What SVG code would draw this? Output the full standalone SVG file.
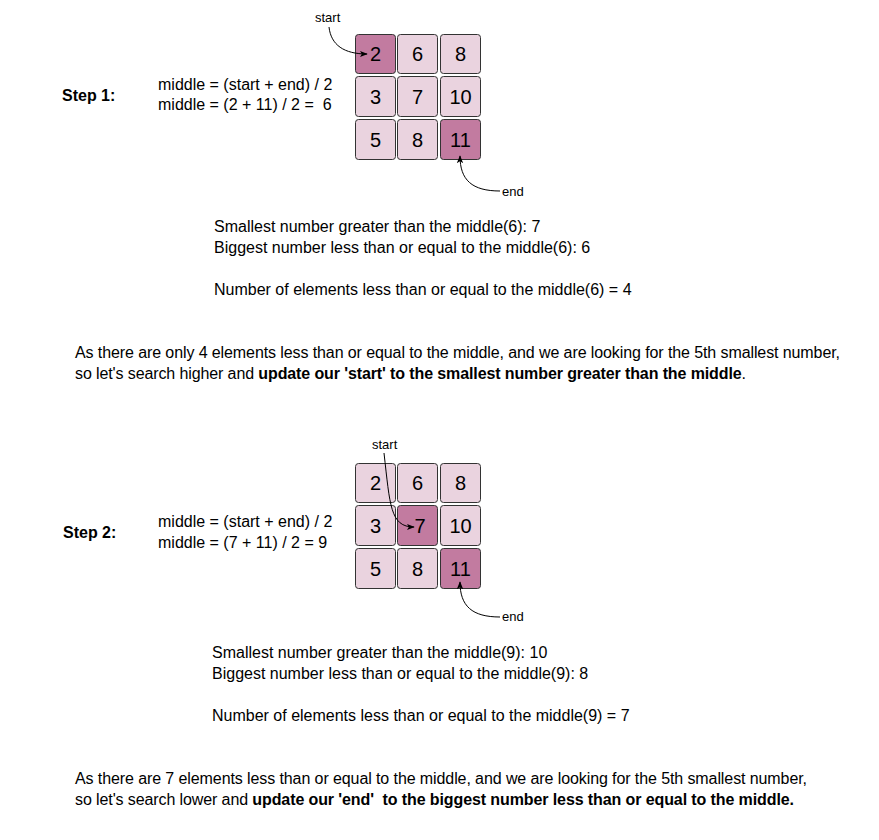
<svg xmlns="http://www.w3.org/2000/svg" width="879" height="840" viewBox="0 0 879 840">
<defs>
<style>
.t{font-family:"Liberation Sans",Arial,sans-serif;font-size:16px;fill:#000}
.b{font-weight:bold}
.lbl{font-family:"Liberation Sans",Arial,sans-serif;font-size:13px;fill:#000}
.cell{fill:#EAD3DF;stroke:#333;stroke-width:1}
.dark{fill:#C27BA0}
.num{font-family:"Liberation Sans",Arial,sans-serif;font-size:20px;fill:#000;text-anchor:middle}
.con{fill:none;stroke:#000;stroke-width:1}
</style>
<marker id="ah" viewBox="0 0 10 10" refX="9" refY="5" markerWidth="8" markerHeight="8" markerUnits="userSpaceOnUse" orient="auto">
<path d="M0,1 L10,5 L0,9 L2.5,5 Z" fill="#000"/>
</marker>
</defs>
<rect width="879" height="840" fill="#fff"/>

<g id="step1">
<text class="t b" x="62" y="101">Step 1:</text>
<text class="t" x="158" y="90">middle = (start + end) / 2</text>
<text class="t" x="158" y="110" xml:space="preserve">middle = (2 + 11) / 2 =  6</text>
</g>

<g id="grid1">
<g id="g1c1"><rect class="cell dark" x="355.5" y="34.5" width="40" height="39" rx="3"/><text class="num" x="375.5" y="61">2</text></g>
<g id="g1c2"><rect class="cell" x="397.5" y="34.5" width="40" height="39" rx="3"/><text class="num" x="417.5" y="61">6</text></g>
<g id="g1c3"><rect class="cell" x="440.5" y="34.5" width="40" height="39" rx="3"/><text class="num" x="460.5" y="61">8</text></g>
<g id="g1c4"><rect class="cell" x="355.5" y="76.5" width="40" height="40" rx="3"/><text class="num" x="375.5" y="103.5">3</text></g>
<g id="g1c5"><rect class="cell" x="397.5" y="76.5" width="40" height="40" rx="3"/><text class="num" x="417.5" y="103.5">7</text></g>
<g id="g1c6"><rect class="cell" x="440.5" y="76.5" width="40" height="40" rx="3"/><text class="num" x="460.5" y="103.5">10</text></g>
<g id="g1c7"><rect class="cell" x="355.5" y="119.5" width="40" height="40" rx="3"/><text class="num" x="375.5" y="146.5">5</text></g>
<g id="g1c8"><rect class="cell" x="397.5" y="119.5" width="40" height="40" rx="3"/><text class="num" x="417.5" y="146.5">8</text></g>
<g id="g1c9"><rect class="cell dark" x="440.5" y="119.5" width="40" height="40" rx="3"/><text class="num" x="460.5" y="146.5">11</text></g>
</g>

<g id="labels1">
<text class="lbl" x="315" y="22">start</text>
<text class="lbl" x="502" y="196">end</text>
</g>

<g id="text1">
<text class="t" x="214" y="232">Smallest number greater than the middle(6): 7</text>
<text class="t" x="214" y="253">Biggest number less than or equal to the middle(6): 6</text>
<text class="t" x="214" y="295">Number of elements less than or equal to the middle(6) = 4</text>
<text class="t" x="75" y="358" textLength="765" lengthAdjust="spacing">As there are only 4 elements less than or equal to the middle, and we are looking for the 5th smallest number,</text>
<text class="t" x="75" y="379" textLength="671" lengthAdjust="spacing">so let's search higher and <tspan class="b">update our 'start' to the smallest number greater than the middle</tspan>.</text>
</g>

<g id="step2">
<text class="t b" x="63" y="538">Step 2:</text>
<text class="t" x="158" y="527">middle = (start + end) / 2</text>
<text class="t" x="158" y="548">middle = (7 + 11) / 2 = 9</text>
</g>

<g id="grid2">
<g id="g2c1"><rect class="cell" x="355.5" y="463.5" width="40" height="39" rx="3"/><text class="num" x="375.5" y="490">2</text></g>
<g id="g2c2"><rect class="cell" x="397.5" y="463.5" width="40" height="39" rx="3"/><text class="num" x="417.5" y="490">6</text></g>
<g id="g2c3"><rect class="cell" x="440.5" y="463.5" width="40" height="39" rx="3"/><text class="num" x="460.5" y="490">8</text></g>
<g id="g2c4"><rect class="cell" x="355.5" y="505.5" width="40" height="40" rx="3"/><text class="num" x="375.5" y="532.5">3</text></g>
<g id="g2c5"><rect class="cell dark" x="397.5" y="505.5" width="40" height="40" rx="3"/><text class="num" x="420" y="532.5">7</text></g>
<g id="g2c6"><rect class="cell" x="440.5" y="505.5" width="40" height="40" rx="3"/><text class="num" x="460.5" y="532.5">10</text></g>
<g id="g2c7"><rect class="cell" x="355.5" y="548.5" width="40" height="40" rx="3"/><text class="num" x="375.5" y="575.5">5</text></g>
<g id="g2c8"><rect class="cell" x="397.5" y="548.5" width="40" height="40" rx="3"/><text class="num" x="417.5" y="575.5">8</text></g>
<g id="g2c9"><rect class="cell dark" x="440.5" y="548.5" width="40" height="40" rx="3"/><text class="num" x="460.5" y="575.5">11</text></g>
</g>

<g id="labels2">
<text class="lbl" x="372" y="449">start</text>
<text class="lbl" x="502" y="621">end</text>
</g>

<g id="text2">
<text class="t" x="212" y="658">Smallest number greater than the middle(9): 10</text>
<text class="t" x="212" y="679">Biggest number less than or equal to the middle(9): 8</text>
<text class="t" x="212" y="721">Number of elements less than or equal to the middle(9) = 7</text>
<text class="t" x="75" y="784" textLength="732" lengthAdjust="spacing">As there are 7 elements less than or equal to the middle, and we are looking for the 5th smallest number,</text>
<text class="t" x="75" y="805" xml:space="preserve" textLength="719" lengthAdjust="spacing">so let's search lower and <tspan class="b">update our 'end'  to the biggest number less than or equal to the middle.</tspan></text>
</g>

<g id="connectors">
<path class="con" marker-end="url(#ah)" d="M329,27 C331,45 344,54 367,54"/>
<path class="con" marker-end="url(#ah)" d="M500,191 C472,191 460,180 460,156"/>
<path class="con" marker-end="url(#ah)" d="M384,453 C390,505 390,527 414,527"/>
<path class="con" marker-end="url(#ah)" d="M500,617 C472,617 460,606 460,582"/>
</g>
</svg>
